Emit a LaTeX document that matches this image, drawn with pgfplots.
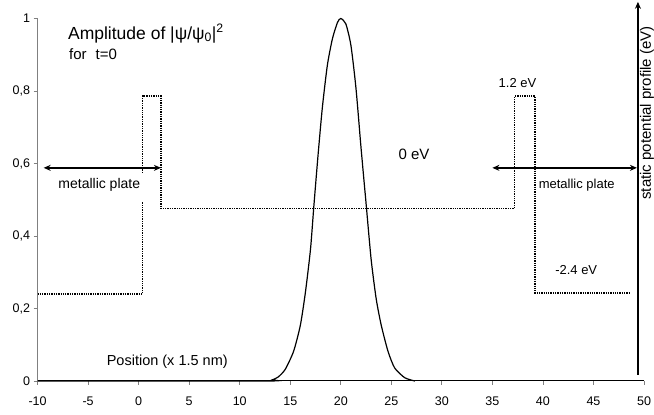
\documentclass[border=0pt]{standalone}
\usepackage{pgfplots}
\pgfplotsset{compat=1.18}
\usepackage{fontspec}
\setmainfont{Liberation Sans}
\usetikzlibrary{arrows.meta}
\begin{document}
\begin{tikzpicture}
\begin{axis}[
  name=ax,
  scale only axis,
  width=606.4pt, height=362.5pt,
  xmin=-10, xmax=50, ymin=0, ymax=1,
  clip=false,
  axis x line=bottom, axis y line=left,
  x axis line style={-, black, line width=1pt},
  y axis line style={-, gray, line width=1pt},
  xtick={-10,-5,...,50},
  xticklabels={-10,-5,0,5,10,15,20,25,30,35,40,45,50},
  ytick={0,0.2,0.4,0.6,0.8,1},
  yticklabels={0,{0,2},{0,4},{0,6},{0,8},1},
  tick align=outside,
  major tick length=4pt,
  tick style={gray, line width=0.8pt},
  xticklabel style={font=\fontsize{12.5}{14}\selectfont, yshift=-8pt},
  yticklabel style={font=\fontsize{12.5}{14}\selectfont},
  unbounded coords=jump,
]
% static potential profile (dotted)
\addplot[black, line width=1.3pt, densely dotted] coordinates {
 (-10,0.24) (0.4,0.24) (0.4,0.495) (0.4,nan) (0.4,0.574) (0.4,0.786) (2.2,0.786) (2.2,0.476)
 (37.2,0.476) (37.2,0.786) (39.2,0.786) (39.2,0.243) (48.5,0.243)
};
% wave packet amplitude
\addplot[black, line width=1.2pt, smooth, tension=0.4] coordinates {
 (-10,0) (12.5,0) (13.2,0.003) (13.8,0.011) (14.5,0.032) (15.33,0.082) (16,0.154) (16.5,0.245)
 (17,0.363) (17.33,0.481) (17.73,0.617) (18.17,0.753) (18.67,0.871) (19.17,0.944)
 (19.67,0.989) (20,1.0) (20.5,0.985) (21,0.926) (21.5,0.808) (22,0.644) (22.5,0.49)
 (23,0.336) (23.5,0.227) (24,0.154) (24.67,0.082) (25.33,0.036) (26.33,0.009) (27.33,0)
};
% arrows
\draw[{Stealth[length=7pt,width=6pt]}-{Stealth[length=7pt,width=6pt]}, line width=1.8pt]
  (axis cs:-9.4,0.588) -- (axis cs:2.2,0.588);
\draw[{Stealth[length=7pt,width=6pt]}-{Stealth[length=7pt,width=6pt]}, line width=1.8pt]
  (axis cs:35.0,0.588) -- (axis cs:49.3,0.588);
\draw[-{Stealth[length=7pt,width=6pt]}, line width=1.8pt]
  (axis cs:49.4,0.017) -- (axis cs:49.4,1.046);
% texts
\node[anchor=base west, inner sep=0pt, font=\fontsize{17.5}{19}\selectfont] at (axis cs:-7.0,0.943)
  {Amplitude of |ψ/ψ\textsubscript{0}|\textsuperscript{2}};
\node[anchor=base west, inner sep=0pt, font=\fontsize{15}{17}\selectfont] at (axis cs:-6.9,0.888)
  {for\hspace{0.6em}t=0};
\node[anchor=base west, inner sep=0pt, font=\fontsize{14}{16}\selectfont] at (axis cs:-7.96,0.53)
  {metallic plate};
\node[anchor=base west, inner sep=0pt, font=\fontsize{13}{15}\selectfont] at (axis cs:39.57,0.53)
  {metallic plate};
\node[anchor=base west, inner sep=0pt, font=\fontsize{15}{17}\selectfont] at (axis cs:25.7,0.612)
  {0 eV};
\node[anchor=base west, inner sep=0pt, font=\fontsize{13}{15}\selectfont] at (axis cs:35.6,0.81)
  {1.2 eV};
\node[anchor=base west, inner sep=0pt, font=\fontsize{13}{15}\selectfont] at (axis cs:41.2,0.295)
  {-2.4 eV};
\node[anchor=base west, inner sep=0pt, font=\fontsize{14.5}{16}\selectfont] at (axis cs:-3.17,0.044)
  {Position (x 1.5 nm)};
\node[anchor=base west, inner sep=0pt, rotate=90, font=\fontsize{15}{17}\selectfont] at (axis cs:50.67,0.5)
  {static potential profile (eV)};
\end{axis}
\pgfresetboundingbox
\path[use as bounding box] ([shift={(-37.6pt,-34pt)}]ax.south west) rectangle ([shift={(10pt,18.5pt)}]ax.north east);
\end{tikzpicture}
\end{document}
